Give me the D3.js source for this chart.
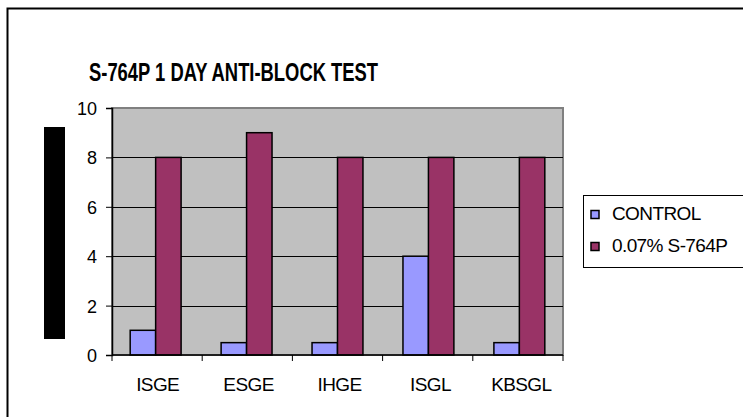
<!DOCTYPE html>
<html>
<head>
<meta charset="utf-8">
<script src="https://cdn.jsdelivr.net/npm/d3@7"></script>
<style>
  body { margin: 0; background: #fff; }
  svg { display: block; font-family: "Liberation Sans", Arial, sans-serif; }
</style>
</head>
<body>
<svg id="chart" width="743" height="417"></svg>
<script>
// data
var categories = ["ISGE", "ESGE", "IHGE", "ISGL", "KBSGL"]
var seriesNames = ["CONTROL", "0.07% S-764P"]
var controlValues = [1, 0.5, 0.5, 4, 0.5]
var s764Values = [8, 9, 8, 8, 8]
var yTicks = [0, 2, 4, 6, 8, 10]
var colors = ["#9999FF", "#993366"]

var svg = d3.select("#chart")

// outer chart frame (runs off right and bottom)
svg.append("rect")
  .attr("x", 7.5).attr("y", 8.5)
  .attr("width", 760).attr("height", 430)
  .attr("fill", "white")
  .attr("stroke", "black")
  .attr("stroke-width", 2)

var margin = {left: 112, top: 108}
var graph = {width: 451, height: 247}

var xScale = d3.scaleBand()
  .domain(categories)
  .range([0, graph.width])
  .paddingInner(0.44)
  .paddingOuter(0.2)

var yScale = d3.scaleLinear()
  .domain([0, 10])
  .range([graph.height, 0])

var target = svg.append("g")
  .attr("transform", "translate(" + margin.left + "," + margin.top + ")")

// plot background
target.append("rect")
  .attr("width", graph.width).attr("height", graph.height)
  .attr("fill", "#C0C0C0")
  .attr("stroke", "#808080")
  .attr("stroke-width", 2)

// gridlines
target.selectAll(".grid")
  .data(yTicks.filter(function(d) { return d > 0 && d < 10 }))
  .enter()
  .append("line")
    .attr("x1", 0).attr("x2", graph.width)
    .attr("y1", function(d) { return Math.round(yScale(d)) + 0.5 })
    .attr("y2", function(d) { return Math.round(yScale(d)) + 0.5 })
    .attr("stroke", "black")
    .attr("stroke-width", 1)

// bars
var dataReady = categories.map(function(c, i) {
  return {cat: c, values: [controlValues[i], s764Values[i]]}
})
var inner = d3.scaleBand().domain([0, 1]).range([0, xScale.bandwidth()])

target.selectAll(".group")
  .data(dataReady)
  .enter()
  .append("g")
    .attr("transform", function(d) { return "translate(" + xScale(d.cat) + ",0)" })
  .selectAll("rect")
  .data(function(d) { return d.values })
  .enter()
  .append("rect")
    .attr("x", function(d, i) { return inner(i) })
    .attr("y", function(d) { return yScale(d) })
    .attr("width", inner.bandwidth())
    .attr("height", function(d) { return graph.height - yScale(d) })
    .attr("fill", function(d, i) { return colors[i] })
    .attr("stroke", "black")
    .attr("stroke-width", 1.5)

// axes
var yAxis = d3.axisLeft(yScale).tickValues(yTicks).tickSize(6).tickPadding(9)
var yG = target.append("g").call(yAxis)
yG.select(".domain").attr("stroke", "black").attr("stroke-width", 1.5)
yG.selectAll("line").attr("stroke", "black")
yG.selectAll("text")
  .attr("dy", "0.36em")
  .style("font-size", "18px")
  .attr("fill", "black")

var boundaries = d3.range(categories.length + 1)
var xG = target.append("g").attr("transform", "translate(0," + graph.height + ")")
xG.append("line")
  .attr("x1", 0).attr("x2", graph.width)
  .attr("stroke", "black").attr("stroke-width", 1.5)
xG.selectAll(".tick")
  .data(boundaries)
  .enter()
  .append("line")
    .attr("x1", function(d) { return d * graph.width / categories.length })
    .attr("x2", function(d) { return d * graph.width / categories.length })
    .attr("y1", 0).attr("y2", 6)
    .attr("stroke", "black")
xG.selectAll(".lbl")
  .data(categories)
  .enter()
  .append("text")
    .attr("x", function(d) { return xScale(d) + xScale.bandwidth() / 2 + 2 })
    .attr("y", 36)
    .attr("text-anchor", "middle")
    .style("font-size", "19px")
    .style("letter-spacing", "-0.6px")
    .text(function(d) { return d })

// title
svg.append("text")
  .attr("x", 89).attr("y", 81)
  .attr("textLength", 289)
  .attr("lengthAdjust", "spacingAndGlyphs")
  .style("font-size", "25px")
  .style("font-weight", "bold")
  .text("S-764P 1 DAY ANTI-BLOCK TEST")

// y axis title block
svg.append("rect")
  .attr("x", 44).attr("y", 127)
  .attr("width", 21).attr("height", 212)
  .attr("fill", "black")

// legend
var legend = svg.append("g").attr("transform", "translate(583,195)")
legend.append("rect")
  .attr("x", 0.5).attr("y", 0.5)
  .attr("width", 200).attr("height", 72)
  .attr("fill", "white").attr("stroke", "black")
var items = legend.selectAll(".item")
  .data(seriesNames)
  .enter()
  .append("g")
    .attr("transform", function(d, i) { return "translate(0," + (15 + i * 32) + ")" })
items.append("rect")
  .attr("x", 8).attr("y", 0.5)
  .attr("width", 8).attr("height", 8)
  .attr("fill", function(d, i) { return colors[i] })
  .attr("stroke", "black")
  .attr("stroke-width", 1.5)
items.append("text")
  .attr("x", 29).attr("y", 10)
  .style("font-size", "19px")
  .style("letter-spacing", "-0.6px")
  .text(function(d) { return d })
</script>
</body>
</html>
